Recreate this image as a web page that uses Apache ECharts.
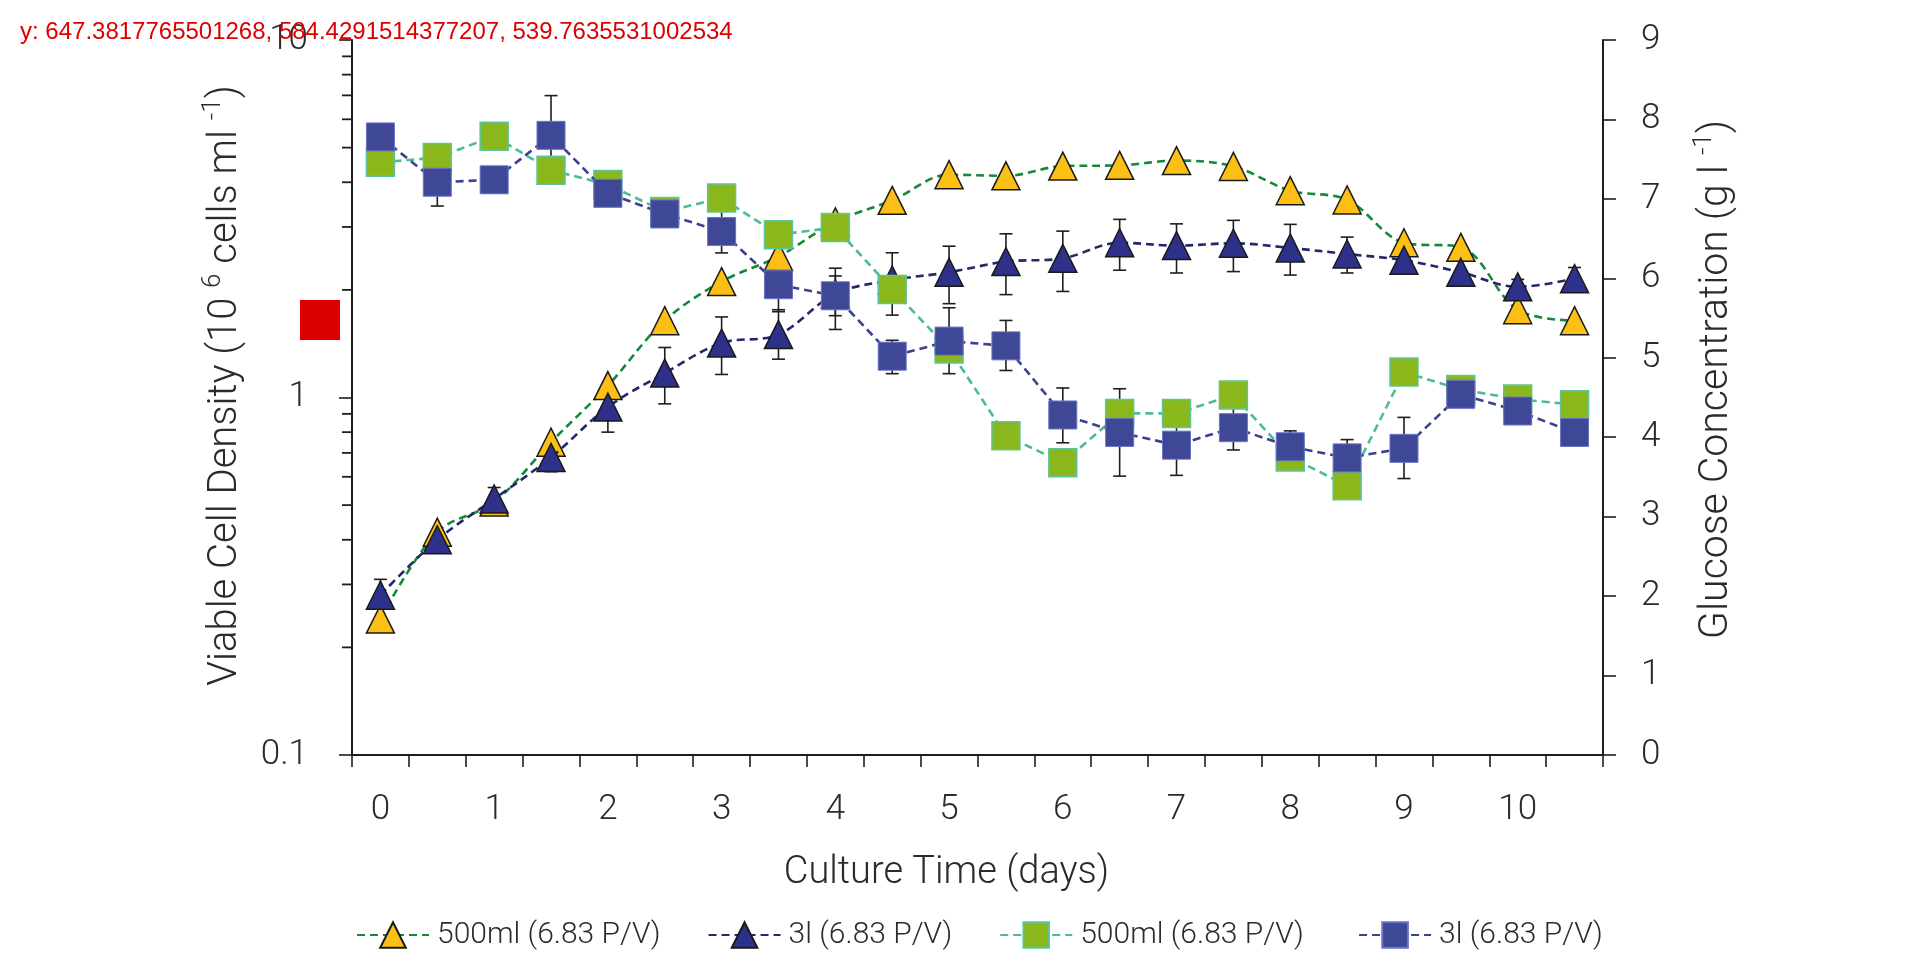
<!DOCTYPE html>
<html>
<head>
<meta charset="utf-8">
<script src="https://cdn.jsdelivr.net/npm/echarts@6/dist/echarts.min.js"></script>
<style>
html,body{margin:0;padding:0;background:#fff;}
#chart{width:1921px;height:961px;}
</style>
</head>
<body>
<div id="chart"></div>
<script>
// Culture time categories (days)
const days = ['0','0.5','1','1.5','2','2.5','3','3.5','4','4.5','5','5.5','6','6.5','7','7.5','8','8.5','9','9.5','10','10.5'];

// Viable cell density (10^6 cells/ml) - triangles, left log axis
const vcd500 = [0.24,0.42,0.51,0.75,1.08,1.64,2.11,2.48,3.10,3.56,4.20,4.17,4.44,4.46,4.60,4.43,3.79,3.57,2.71,2.63,1.76,1.64];
const vcd3l  = [0.28,0.40,0.52,0.68,0.94,1.17,1.42,1.50,1.95,2.13,2.24,2.40,2.45,2.71,2.66,2.70,2.62,2.52,2.42,2.24,2.04,2.15];
const vcd3lLow  = [0.27,null,0.50,0.62,0.80,0.96,1.16,1.28,1.55,1.70,1.83,1.94,1.98,2.27,2.23,2.25,2.20,2.23,null,null,1.95,2.00];
const vcd3lHigh = [0.31,null,0.56,0.72,1.02,1.38,1.68,1.76,2.30,2.54,2.65,2.87,2.92,3.15,3.06,3.13,3.05,2.81,null,null,2.14,2.31];

// Glucose concentration (g/l) - squares, right axis
const glc500 = [7.46,7.52,7.79,7.36,7.18,6.84,7.01,6.55,6.64,5.86,5.11,4.02,3.68,4.30,4.30,4.53,3.75,3.39,4.82,4.60,4.48,4.41];
const glc3l  = [7.78,7.21,7.24,7.80,7.07,6.81,6.59,5.92,5.78,5.02,5.21,5.15,4.28,4.06,3.90,4.12,3.88,3.74,3.86,4.54,4.33,4.06];
const glc3lLow  = [null,6.91,null,7.30,null,null,6.32,5.58,5.53,4.80,4.80,4.84,3.93,3.51,3.52,3.84,3.68,3.50,3.48,null,null,null];
const glc3lHigh = [null,7.51,null,8.30,null,null,6.86,6.26,6.03,5.22,5.63,5.47,4.62,4.61,4.28,4.40,4.08,3.97,4.25,null,null,null];

// Log-axis minor tick values
const minorTickValues = [0.2,0.3,0.4,0.5,0.6,0.7,0.8,0.9,2,3,4,5,6,7,8,9];

const seriesNames = ['500ml (6.83 P/V)','3l (6.83 P/V)','500ml (6.83 P/V) ','3l (6.83 P/V)  '];

const FONT = 'Roboto';
const TXT = '#2b2b2b';
const AX = '#1e1e1e';
const GRID_LEFT = 352;

function errData(low, high) {
  const out = [];
  for (let i = 0; i < low.length; i++) {
    if (low[i] != null && high[i] != null) out.push([i, low[i], high[i]]);
  }
  return out;
}
function errRender(params, api) {
  const x = api.value(0);
  const lo = api.coord([x, api.value(1)]);
  const hi = api.coord([x, api.value(2)]);
  const hw = 6.5;
  const style = {stroke: '#1e1e1e', lineWidth: 1.6, fill: null};
  return {type: 'group', children: [
    {type: 'line', shape: {x1: lo[0], y1: lo[1], x2: hi[0], y2: hi[1]}, style: style},
    {type: 'line', shape: {x1: lo[0]-hw, y1: lo[1], x2: lo[0]+hw, y2: lo[1]}, style: style},
    {type: 'line', shape: {x1: hi[0]-hw, y1: hi[1], x2: hi[0]+hw, y2: hi[1]}, style: style}
  ]};
}

const chart = echarts.init(document.getElementById('chart'), null, {renderer: 'canvas'});
function titleRich(size) {
  return {
    t: {fontSize: size, fontFamily: FONT, fontWeight: 300, color: TXT},
    s: {fontSize: 26, fontFamily: FONT, fontWeight: 300, color: TXT, padding: [0, 0, 26, 0]}
  };
}

chart.setOption({
  animation: false,
  backgroundColor: '#ffffff',
  textStyle: {fontFamily: FONT},
  grid: {left: GRID_LEFT, right: 318, top: 40, bottom: 206, containLabel: false},
  legend: {
    data: seriesNames,
    left: 356, top: 920, padding: 0,
    itemWidth: 72, itemHeight: 32, itemGap: 47,
    textStyle: {fontSize: 30, fontFamily: FONT, fontWeight: 300, color: TXT, padding: [0,0,0,3]}
  },
  xAxis: {
    type: 'category',
    data: days,
    boundaryGap: true,
    name: 'Culture Time (days)',
    nameLocation: 'middle',
    nameGap: 99,
    nameTextStyle: {fontSize: 38, fontFamily: FONT, fontWeight: 300, color: TXT, padding: [0, 62, 0, 0]},
    axisLine: {lineStyle: {color: AX, width: 2}},
    axisTick: {show: true, interval: 0, length: 12, lineStyle: {color: AX, width: 1.6}},
    axisLabel: {interval: 1, margin: 38, fontSize: 35, fontFamily: FONT, fontWeight: 300, color: TXT},
    splitLine: {show: false}
  },
  yAxis: [
    {
      type: 'log', logBase: 10, min: 0.1, max: 10,
      position: 'left',
      name: '{t|Viable Cell Density (10 }{s|6}{t| cells ml }{s|-1}{t|)}',
      nameLocation: 'middle', nameRotate: 90, nameGap: 100,
      nameTextStyle: {rich: titleRich(40), padding: [0, 0, 0, 24]},
      axisLine: {show: true, lineStyle: {color: AX, width: 2}},
      axisTick: {show: true, length: 13, lineStyle: {color: AX, width: 1.6}},
      axisLabel: {margin: 44, fontSize: 35, fontFamily: FONT, fontWeight: 300, color: TXT},
      splitLine: {show: false}, minorTick: {show: false}
    },
    {
      type: 'value', min: 0, max: 9, interval: 1,
      position: 'right',
      name: '{t|Glucose Concentration (g l }{s|-1}{t|)}',
      nameLocation: 'middle', nameRotate: 90, nameGap: 88,
      nameTextStyle: {rich: titleRich(41), padding: [0, 0, 0, 36]},
      axisLine: {show: true, lineStyle: {color: AX, width: 2}},
      axisTick: {show: true, length: 13, lineStyle: {color: AX, width: 1.6}},
      axisLabel: {margin: 38, fontSize: 35, fontFamily: FONT, fontWeight: 300, color: TXT},
      splitLine: {show: false}
    }
  ],
  series: [
    {type: 'custom', name: 'err1', yAxisIndex: 0, renderItem: errRender, clip: false,
     data: errData(vcd3lLow, vcd3lHigh), silent: true, z: 1},
    {type: 'custom', name: 'err2', yAxisIndex: 1, renderItem: errRender, clip: false,
     data: errData(glc3lLow, glc3lHigh), silent: true, z: 1},
    {
      name: seriesNames[0], type: 'line', yAxisIndex: 0, data: vcd500,
      symbol: 'triangle', symbolSize: 28, smooth: 0.35, z: 2,
      lineStyle: {color: '#13893a', width: 2.6, type: [8, 5]},
      itemStyle: {color: '#fcbf15', borderColor: '#1a1a1a', borderWidth: 1.5}
    },
    {
      name: seriesNames[1], type: 'line', yAxisIndex: 0, data: vcd3l,
      symbol: 'triangle', symbolSize: 28, smooth: 0.35, z: 3,
      lineStyle: {color: '#24286a', width: 2.6, type: [8, 5]},
      itemStyle: {color: '#2e3189', borderColor: '#1a1a1a', borderWidth: 1.5}
    },
    {
      name: seriesNames[2], type: 'line', yAxisIndex: 1, data: glc500,
      symbol: 'rect', symbolSize: 28, z: 4,
      lineStyle: {color: '#4dbb93', width: 2.6, type: [8, 5]},
      itemStyle: {color: '#8ab81c', borderColor: '#5cc5a0', borderWidth: 1.5}
    },
    {
      name: seriesNames[3], type: 'line', yAxisIndex: 1, data: glc3l,
      symbol: 'rect', symbolSize: 28, z: 5,
      lineStyle: {color: '#3a4190', width: 2.6, type: [8, 5]},
      itemStyle: {color: '#3f4797', borderColor: '#6a72c2', borderWidth: 1}
    }
  ]
});

// Minor ticks of the log axis, positioned through the axis scale
const minorLines = minorTickValues.map(function (v) {
  const y = chart.convertToPixel({yAxisIndex: 0}, v);
  return {type: 'line', silent: true, z: 100,
          shape: {x1: GRID_LEFT - 10, y1: y, x2: GRID_LEFT, y2: y},
          style: {stroke: AX, lineWidth: 1.8}};
});
// temporary diagnostic: show what the conversion returned
const dbg = minorLines.slice(0, 3).map(function (l) { return String(l.shape.y1); }).join(', ');
minorLines.push({type: 'text', z: 100, left: 20, top: 20,
  style: {text: 'y: ' + dbg, fontSize: 24, fill: '#d00'}});
minorLines.push({type: 'rect', z: 100, shape: {x: 300, y: 300, width: 40, height: 40}, style: {fill: '#d00'}});
chart.setOption({graphic: {elements: minorLines}});
</script>
</body>
</html>
